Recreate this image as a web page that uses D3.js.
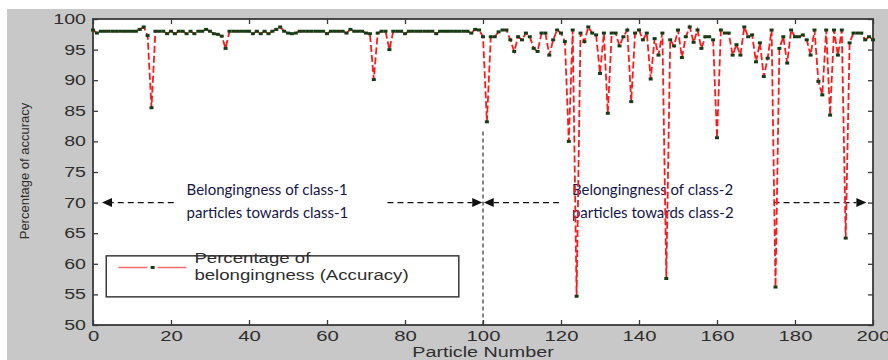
<!DOCTYPE html>
<html>
<head>
<meta charset="utf-8">
<script src="https://cdn.jsdelivr.net/npm/d3@7"></script>
<style>
  html, body { margin: 0; padding: 0; background: #fff; }
  svg { display: block; }
</style>
</head>
<body>
<div id="chart"></div>
<script>
// Data: accuracy per particle, particles 0..200
const class1Accuracy = [
  98.2, 97.7, 98, 98, 98, 98, 98, 98, 98, 98,
  98, 98, 98.3, 98.7, 97.3, 85.5, 98, 98, 98, 97.6,
  98, 97.6, 98, 98, 97.6, 98, 97.6, 98, 98, 98.3,
  98, 97.6, 97.5, 97.2, 95.2, 98, 98, 98, 98, 98,
  98, 97.6, 98, 97.6, 98, 97.6, 98, 98.3, 98.7, 98,
  97.7, 97.6, 97.7, 98, 98, 98, 98, 98, 98, 98,
  97.6, 98, 98, 98, 98, 97.7, 98.3, 98, 98, 98,
  97.7, 97.6, 90.1, 97.7, 98, 98, 95, 98, 98, 98,
  97.6, 98, 98, 98, 98, 98, 98, 98, 97.6, 98,
  98, 98, 98, 98, 98, 98, 98, 97.7, 98.3, 98.2,
  97.1
];
const class2Accuracy = [
  83.2, 97.1, 97.1, 97.9, 98.2, 98.2, 96.6, 94.7, 97.1, 96.6,
  97.7, 97.1, 95.2, 94.7, 97.7, 97.7, 94.1, 96.6, 98.2, 97.7,
  96.3, 80, 98.2, 54.7, 97.7, 96.3, 98.7, 97.7, 97.4, 91.1,
  97.7, 84.6, 97.7, 97.7, 95.6, 97.1, 98.2, 86.5, 97.7, 98.2,
  96.6, 97.7, 90.2, 96.8, 94.1, 97.7, 57.6, 96.6, 95.6, 98.2,
  93.7, 97.1, 98.7, 96.2, 98.2, 95.2, 97.1, 97.1, 96.6, 80.6,
  98.2, 97.7, 97.7, 94.1, 95.8, 94.1, 98.7, 97.1, 97.4, 93,
  96.1, 90.6, 93.6, 98.2, 56.2, 95.2, 97.1, 92.8, 98.2, 97.1,
  97.1, 97.4, 96.6, 94.1, 98.2, 89.8, 87.6, 98.2, 84.3, 98.2,
  94.1, 98.2, 64.2, 96.1, 97.7, 97.7, 97.7, 96.6, 97.1, 96.6
];
const xTicks = [0, 20, 40, 60, 80, 100, 120, 140, 160, 180, 200];
const yTicks = [50, 55, 60, 65, 70, 75, 80, 85, 90, 95, 100];
const legendLabel = ["Percentage of", "belongingness (Accuracy)"];
const class1Note = ["Belongingness of class-1", "particles towards class-1"];
const class2Note = ["Belongingness of class-2", "particles towards class-2"];
// annotation arrows at accuracy 70, [dash start, arrow tip] in particle units
const arrows = [[20.7, 2.3], [75.5, 99.8], [119.5, 100.2], [174.5, 198.3]];
const boundary = { x: 100, top: 81.6 };

const accuracy = class1Accuracy.concat(class2Accuracy);
const data = accuracy.map((v, i) => ({ x: i, y: v }));

const W = 888, H = 360;
const margin = { top: 19, right: 15, bottom: 35, left: 93 };

const svg = d3.select("#chart").append("svg")
  .attr("width", W).attr("height", H);

// grey figure background
svg.append("rect").attr("x", 7).attr("y", 9)
  .attr("width", W - 7).attr("height", H - 9).attr("fill", "#c8c8c8");

const x = d3.scaleLinear().domain([0, 200]).range([margin.left, W - margin.right]);
const y = d3.scaleLinear().domain([50, 100]).range([H - margin.bottom, margin.top]);

// plot area
svg.append("rect")
  .attr("x", x(0)).attr("y", y(100))
  .attr("width", x(200) - x(0)).attr("height", y(50) - y(100))
  .attr("fill", "#fff");

// stretch text horizontally, the picture is a bit wide
function stretch(sel, k) {
  sel.each(function () {
    const len = this.getComputedTextLength();
    d3.select(this).attr("textLength", len * k).attr("lengthAdjust", "spacingAndGlyphs");
  });
}

const axisColor = "#3a3a3a";
const tickFont = "'Liberation Sans', Arial, sans-serif";

const gx = svg.append("g").attr("transform", `translate(0,${y(50)})`)
  .call(d3.axisBottom(x).tickValues(xTicks).tickSizeInner(-5).tickSizeOuter(0).tickPadding(5));
const gy = svg.append("g").attr("transform", `translate(${x(0)},0)`)
  .call(d3.axisLeft(y).tickValues(yTicks).tickSizeInner(-5).tickSizeOuter(0).tickPadding(7));
const gTop = svg.append("g").attr("transform", `translate(0,${y(100)})`)
  .call(d3.axisTop(x).tickValues(xTicks).tickSizeInner(-5).tickSizeOuter(0).tickFormat(""));
const gRight = svg.append("g").attr("transform", `translate(${x(200)},0)`)
  .call(d3.axisRight(y).tickValues(yTicks).tickSizeInner(-5).tickSizeOuter(0).tickFormat(""));

[gx, gy, gTop, gRight].forEach(g => {
  g.select(".domain").remove();
  g.selectAll(".tick line").attr("stroke", axisColor).attr("stroke-width", 1.3);
});
gx.selectAll("text").attr("fill", "#2e2e2e").style("font-family", tickFont).style("font-size", "15px");
gy.selectAll("text").attr("fill", "#2e2e2e").style("font-family", tickFont).style("font-size", "14px");
stretch(gx.selectAll("text"), 1.35);
stretch(gy.selectAll("text"), 1.4);

// box
svg.append("rect")
  .attr("x", x(0)).attr("y", y(100))
  .attr("width", x(200) - x(0)).attr("height", y(50) - y(100))
  .attr("fill", "none").attr("stroke", axisColor).attr("stroke-width", 1.8);

// axis titles
const xTitle = svg.append("text")
  .attr("x", x(100)).attr("y", 357)
  .attr("text-anchor", "middle")
  .style("font-family", tickFont).style("font-size", "14px").attr("fill", "#2e2e2e")
  .text("Particle Number");
stretch(xTitle, 1.41);

const yTitle = svg.append("text")
  .attr("transform", `translate(29,${(y(50) + y(100)) / 2 - 1}) rotate(-90)`)
  .attr("text-anchor", "middle")
  .style("font-family", tickFont).style("font-size", "13px").attr("fill", "#2e2e2e")
  .text("Percentage of accuracy");

// boundary between classes
svg.append("line")
  .attr("x1", x(boundary.x)).attr("x2", x(boundary.x))
  .attr("y1", y(boundary.top)).attr("y2", y(50))
  .attr("stroke", "#333").attr("stroke-width", 1.2).attr("stroke-dasharray", "4,3");

// arrows
const arrowY = y(70);
arrows.forEach(([from, to]) => {
  const x0 = x(from), x1 = x(to);
  const dir = x1 > x0 ? 1 : -1;
  const base = x1 - dir * 10;
  svg.append("line")
    .attr("x1", x0).attr("x2", base).attr("y1", arrowY).attr("y2", arrowY)
    .attr("stroke", "#111").attr("stroke-width", 1.2).attr("stroke-dasharray", "6,4");
  svg.append("path")
    .attr("d", `M${x1},${arrowY}L${base},${arrowY - 4.5}L${base},${arrowY + 4.5}Z`)
    .attr("fill", "#111");
});

// notes
const noteFont = "Lato, 'Open Sans', sans-serif";
function note(lines, x0) {
  const t = svg.append("g");
  lines.forEach((s, i) => {
    t.append("text")
      .attr("x", x0).attr("y", 195 + i * 23)
      .style("font-family", noteFont).style("font-size", "15px")
      .attr("fill", "#16164a")
      .text(s);
  });
  return t;
}
note(class1Note, x(24));
note(class2Note, x(122.8));

// accuracy line
const line = d3.line().x(d => x(d.x)).y(d => y(d.y));
svg.append("path")
  .datum(data)
  .attr("d", line)
  .attr("fill", "none")
  .attr("stroke", "#ff1a1a")
  .attr("stroke-width", 1.8)
  .attr("stroke-dasharray", "7,3");

svg.append("g").selectAll("rect")
  .data(data)
  .join("rect")
  .attr("x", d => x(d.x) - 2)
  .attr("y", d => y(d.y) - 1.5)
  .attr("width", 4).attr("height", 3)
  .attr("fill", "#153d15");

// legend
const lg = svg.append("g");
lg.append("rect")
  .attr("x", x(3.4)).attr("y", y(61.3))
  .attr("width", x(93.8) - x(3.4)).attr("height", y(54.6) - y(61.3))
  .attr("fill", "#fff").attr("stroke", axisColor).attr("stroke-width", 1.5);
const ly = y(59.4);
lg.append("line")
  .attr("x1", x(6.5)).attr("x2", x(24.2)).attr("y1", ly).attr("y2", ly)
  .attr("stroke", "#ff6a6a").attr("stroke-width", 1.5).attr("stroke-dasharray", "29,10");
lg.append("rect")
  .attr("x", x(15.3) - 2).attr("y", ly - 1.5).attr("width", 4).attr("height", 3)
  .attr("fill", "#153d15");
legendLabel.forEach((s, i) => {
  const t = lg.append("text")
    .attr("x", x(26)).attr("y", 263 + i * 17)
    .style("font-family", tickFont).style("font-size", "14px").attr("fill", "#2e2e2e")
    .text(s);
  stretch(t, 1.33);
});
</script>
</body>
</html>
